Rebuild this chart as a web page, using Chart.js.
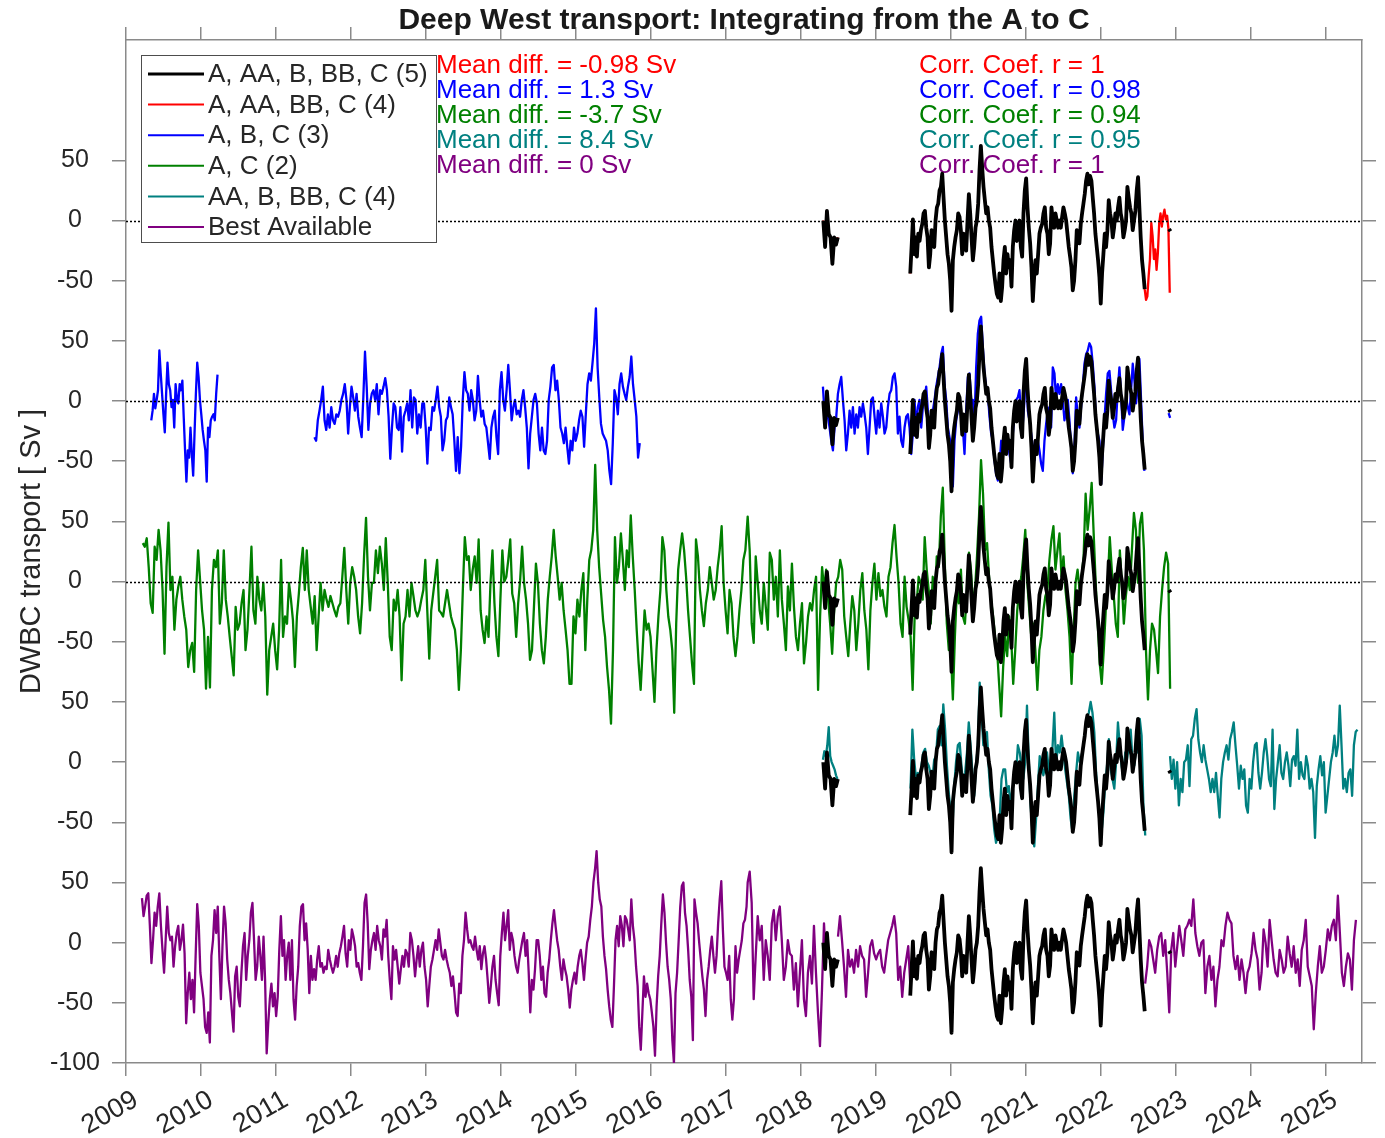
<!DOCTYPE html>
<html>
<head>
<meta charset="utf-8">
<title>Deep West transport</title>
<script src="https://cdn.jsdelivr.net/npm/chart.js@4.4.1/dist/chart.umd.min.js"></script>
<style>
  html, body { margin: 0; padding: 0; background: #fff; }
  canvas { display: block; }
</style>
</head>
<body>
<canvas id="dwbcChart" width="1385" height="1138"></canvas>
<script>
// ---- data (Sv), each segment: [startYear, endYear, values evenly spaced] ----

// A, AA, B, BB, C (5)
const black2018 = [0, -22, 8, -11, -14, -36, -14, -20, -14];
const blackMain = [-44,-22,1,-28,-14,-30,-11,-17,-8,-3,6,8,-6,-14,-39,-28,-8,-11,-22,0,11,14,25,28,39,19,0,-14,-28,-36,-50,-75,-33,-22,-14,-8,6,3,-8,-28,-11,-17,-25,0,22,6,-14,-33,-22,-6,0,14,42,62,44,28,17,6,11,0,-6,-22,-33,-44,-53,-61,-64,-44,-67,-55,-33,-22,-44,-28,-39,-33,-55,-22,-8,0,-17,-11,0,-22,-30,6,25,35,11,-6,-19,-39,-67,-47,-33,-44,-28,-11,-6,-3,6,11,-6,-11,-28,-19,11,0,-6,6,0,-6,0,-6,3,11,6,0,-11,-22,-30,-39,-58,-50,-33,-8,-11,-19,-3,6,14,22,33,39,30,37,33,19,6,-11,-22,-33,-47,-69,-44,-28,-11,-22,-8,17,6,0,-14,-6,6,0,11,19,6,0,-14,-8,0,28,19,11,6,-8,0,8,25,36,11,-14,-33,-44,-57];
const blackTail = [-7, -9];

// A, AA, BB, C (4) - only the tail after 2022.6 is not hidden by the black line
const redTail = [-57,-66,-63,-46,-32,-2,-13,-32,-24,-41,-27,-2,6,-5,4,9,1,4,-7,-60];

// A, B, C (3)
const blue1 = [-16,-8,6,-6,1,9,42,23,6,-11,-26,6,32,14,9,-5,1,-22,14,1,-2,14,9,17,-13,-41,-67,-41,-47,-22,-44,-62,-27,6,32,20,1,-11,-24,-33,-41,-67,-22,-30,-16,-13,-11,-16,6,22];
const blue2 = [-30,-33,-16,-8,1,12,-16,-24,-11,-22,-5,-16,-19,-11,-13,-8,1,6,14,1,-27,-5,12,3,-8,6,-13,-22,-30,3,41,12,-24,-2,6,9,1,14,-11,9,6,12,19,9,-13,-48,-22,-2,-5,-22,-24,-5,-42,-13,-8,-2,-16,9,-22,3,1,-27,-11,-22,-2,-2,-22,-52,-22,-24,-5,-8,1,12,-5,-13,-41,-33,-16,-13,3,-5,-11,-33,-58,-30,-60,-38,1,24,9,6,-8,9,1,-16,-8,21,1,-13,-8,-19,-22,-35,-48,-22,-13,-8,-30,-44,9,24,1,-8,9,30,9,-16,-5,1,-11,-8,-13,1,9,-5,-22,-56,-27,-13,1,6,-2,-27,-41,-22,-41,-44,-33,1,12,28,30,9,17,1,-22,-27,-35,-22,-38,-52,-33,-41,-22,-33,-27,-16,-8,-13,-38,-11,14,23,17,32,48,77,28,3,-19,-27,-30,-33,-41,-58,-69,-35,9,3,-11,14,23,12,6,1,12,20,37,14,1,-13,-47,-35];
const blue3 = [12,-11,1,-13,-22,-33,-41,-22,-13,6,14,20,1,-16,-41,-27,-8,-22,-5,-27,-11,-22,-5,-13,-2,-11,-22,-44,-22,1,3,-13,-27,-8,-22,-2,-13,-27,-22,-5,6,9,20,23,12,-27,-13,-33,-38,-22,-13,-11,-22,-44,-27,1,-22,-5,1,-22,-5,1,12,-8,-33,-11,-8,1,12,20,28,39,45,14,1,-22,-30,-38,-71,-33,-16,-8,1,-13,-22,-44,-8,20,23,1,1,-16,28,56,67,70,45,23,12,6,-13,-27,-33,-49,-61,-66,-55,-33,-41,-27,-38,-35,-44,-52,-27,-13,1,3,9,-13,-19,1,34,-8,-16,-27,-38,-49,-33,-33,-41,-52,-58,-33,-19,-8,-5,-22,28,23,1,14,6,14,1,-16,-8,1,-16,-38,-60,-38,3,-13,-22,-5,12,31,39,42,48,45,31,12,-19,-27,-33,-69,-41,-16,6,23,25,9,-11,-22,-16,9,28,6,-24,-13,3,-5,-11,9,31,17,-2,12,35,1,-35,-58];
const blue4 = [-10, -14];

// A, C (2)
const green1 = [32,29,36,12,-18,-26,29,18,43,26,-7,-60,12,49,-7,4,-40,-15,-4,4,-15,-29,-40,-71,-57,-51,-75,-7,26,1,-24,-40,-89,-46,-88,-7,18,12,26,-35,-18,26,-15,-29,-46,-62,-78,-21,-40,-35,-18,-7,-57,-40,-7,29,-24,-35,4,-15,-24,-1,-29,-94,-57,-46,-35,-57,-73,-40,18,-46,-29,-35,-1,-15,-32,-71,-29,-10,12,28,-7,26,-7,-21,-35,-12,-57,-29,-1,-24,-7,-15,-21,-12,-18,-24,-29,-21,-18,4,28,-7,-35,-1,12,4,-7,-29,-43,-18,21,53,4,-24,-1,-1,26,7,29,15,-7,36,-1,-46,-57,-15,-24,-7,-29,-82,-35,-29,-7,-29,-1,-12,-24,-29,-24,-15,-7,18,-24,-64,-24,-10,4,18,-24,-26,-29,-18,-7,-18,-29,-35,-40,-57,-90,-57,-7,37,18,21,-7,10,21,-1,35,-24,-40,-51,-29,-46,-1,26,-18,-46,-62,-15,26,0,4,18,35,-10,-18,-46,-18,1,29,-1,-15,-35,-65,-57,-21,15,-1,-35,-57,-68,-46,-15,4,21,43,21,4,-15,-1,-24,-40,-57,-85,-85,-29,-43,-15,-29,-7,7,-57,-15,18,26,43,97,43,12,-10,-32,-46,-71,-90,-118,-57,37,-1,12,40,18,-7,26,12,55,21,-7,-40,-68,-90,-57,-24,-40,-35,-46,-73,-100,-57,-29,-7,37,26,-7,-29,-40,-57,-109,-35,10,26,40,26,4,-24,-46,-68,-85,35,21,-7,-24,-37,-18,-7,12,-1,-15,-7,12,26,46,-1,-24,-43,-7,-18,-46,-62,-46,-24,-7,18,26];
const green2 = [54,26,-35,-51,21,-1,-24,-35,-1,-21,-40,24,18,-15,4,-29,26,-15,-35,-57,-4,-24,15,-21,-46,-57,-35,-18,-68,-51,-29,-18,-24,-7,4,-90,-29,12,-7,10,-15,-35,-60,-24,-1,4,18,10,-29,-46,-62,-35,-12,-24,-57,-35,-7,7,-24,-40,-73,-24,-1,15,-15,7,-12,-7,-21,-29,4,12,32,47,21,-1,-35,-46,4,-21,-32,-46,-90,-29,-18,4,-1,-15,37,10,-7,-35,4,-15,21,12,54,78,15,-35,-57,-57,-98,-46,-7,-18,10,-29,-35,-7,24,10,-18,-7,21,54,101,73,26,32,4,-15,-29,-46,-57,-85,-112,-71,-46,-62,-29,-46,-85,-57,-24,-7,4,21,43,-1,-24,-46,-35,-57,-90,-57,-46,-24,-12,-7,18,35,46,10,26,40,4,21,-7,-24,-46,-85,-43,-1,10,-7,4,21,73,43,60,82,40,-1,-35,-68,-85,-57,-24,-1,37,10,-12,-35,-46,26,-1,-35,-12,4,-7,26,57,43,-1,48,57,26,-57,-98,-57,-35,-40,-57,-76,-29,-7,12,24,15,-89];

// AA, B, BB, C (4)
const teal1 = [2,9,5,14,29,5,0,-3,-6,-11,-14];
const teal2 = [-22,27,2,-14,-9,-14,-3,8,11,0,-3,-9,-14,2,5,27,30,14,48,27,-3,-25,-42,-56,-20,0,14,16,-3,-20,-9,8,33,14,-9,-28,-3,14,66,41,14,22,25,-6,-28,-36,-56,-67,-61,-47,-14,-6,-6,-25,-20,-36,-22,-14,-9,14,8,-3,-14,0,47,0,-36,-58,-70,-47,-20,5,-3,-11,-3,8,-6,-14,11,41,-3,14,8,22,8,-6,-17,-28,-47,-58,-28,-9,8,0,5,14,25,36,41,50,41,25,-9,-31,-47,-58,-42,-17,-3,19,-6,-14,-22,0,33,14,-3,-14,8,2,14,27,2,-3,11,8,36,22,-36,-61];
const teal3 = [5,-14,2,-22,0,-36,-14,-25,0,2,14,-20,19,22,36,44,19,8,0,14,2,-6,-14,-25,-14,-25,-9,-28,-46,-14,0,8,14,2,19,25,33,14,-3,-22,-3,-14,-6,-36,-42,-14,-22,0,14,16,-9,-22,-9,8,19,5,-14,-20,27,-39,-14,0,14,-9,-14,0,8,-3,-20,2,5,-3,27,-14,0,-11,-14,5,-3,-22,-14,-25,-63,-20,-6,5,-11,0,-42,-28,-14,0,8,22,5,14,47,14,-22,-14,-25,-9,-6,-28,14,25,27];

// Best Available
const purple1 = [37,22,30,39,41,14,-17,2,25,14,30,41,14,-6,-25,2,30,8,2,5,-20,-3,8,14,-6,2,15,-9,-67,-42,-25,-47,-31,-58,-11,32,14,-25,-36,-47,-70,-75,-58,-83,-11,2,27,8,30,-11,-47,-3,30,16,-14,-31,-42,-58,-74,-28,-20,-45,-53,-25,-3,8,-31,-11,2,25,33,2,-31,-20,5,-11,-31,5,-31,-92,-67,-47,-34,-53,-42,-61,-45,-6,22,-11,2,-31,-11,0,-31,2,-47,-64,-36,-20,14,30,32,2,16,-6,-42,-11,-31,-22,-31,-14,-3,-20,-17,-25,-20,-22,-6,-14,-20,-25,-20,-11,-20,-9,-3,5,14,-9,-20,2,-6,11,5,-3,-20,-17,-25,-31,-3,33,40,16,-22,-6,2,8,-6,14,2,-3,-14,11,5,19,-11,-31,-47,-3,-14,-6,-20,-34,-22,-11,-20,-6,-9,-20,8,2,-11,-28,-14,-3,-20,-6,0,-20,-31,-53,-36,-20,-14,-6,2,-6,11,0,-11,-14,-6,-14,-20,-25,-36,-28,-42,-58,-61,-34,-42,-11,2,25,11,0,2,-3,-6,5,-6,-14,-3,-22,-9,-3,-14,-31,-50,-36,-20,-11,-31,-42,-52,-11,8,25,2,14,27,-6,8,2,-11,-20,-25,-14,-6,2,8,-11,2,-25,-58,-31,-39,-22,2,2,-11,-31,-20,-42,-45,-25,-14,2,16,27,14,2,-6,-20,-31,-14,-22,-28,-39,-54,-39,-31,-25,-34,-20,-11,-6,-17,-31,-14,0,5,19,30,50,61,76,50,36,30,5,-11,-22,-39,-53,-64,-70,-36,2,14,-3,22,14,-3,22,19,11,2,36,14,2,-20,-36,-70,-89,-58,-28,-45,-34,-42,-47,-58,-70,-94,-53,-28,-11,16,40,25,0,-20,-31,-47,-81,-100,-42,-25,2,30,47,50,25,14,-6,-31,-45,-81,36,25,16,0,-14,-28,-39,-61,-31,-20,-6,5,-11,-25,-11,16,36,51,11,-20,-25,-31,-11,-47,-64,-47,-3,-25,-14,-6,2,16,19,30];
const purple2 = [50,59,33,-47,-11,22,2,14,-31,2,-11,-31,16,27,2,22,30,2,-31,-20,2,-9,-11,-39,-17,-53,-25,2,-47,-61,-25,-11,-34,14,-25,-58,-86,-39,16,-17];
const purple3 = [5,22,2,-20,-45,-6,-20,-14,-25,-6,-20,-3,-11,-14,-45,-25,-3,2,-9,-14,-9,-6,-20,-25,-11,2,8,14,22,8,-31,-20,-45,-25,-14,-3,-34];
const purple4 = [-34,-20,2,-3,-14,-25,-6,5,8,-11,2,-25,-58,-6,8,-20,-3,14,2,-11,11,14,19,14,36,8,-3,-11,0,2,-42,-20,-11,-31,-20,-53,-31,-20,2,-3,14,25,19,16,-11,-22,-11,-31,-14,-25,-42,-25,-20,-9,8,-6,-14,-39,-25,11,0,-20,19,2,-14,-25,-28,-6,-14,-25,-20,5,-9,-20,-3,-25,-14,-36,-6,2,19,-20,-28,-36,-72,-42,-20,-3,-25,-20,-6,11,2,14,19,2,39,8,-25,-36,-20,-9,-14,-39,2,19];

// segment time spans (decimal years)
const blackSegs  = [[2018.303, 2018.497, black2018], [2019.463, 2022.591, blackMain], [2022.915, 2022.935, blackTail]];
const redSegs    = [[2018.303, 2018.497, black2018], [2019.463, 2022.591, blackMain], [2022.591, 2022.925, redTail]];
const blueSegs   = [[2009.337, 2010.221, blue1], [2011.514, 2015.854, blue2], [2018.298, 2022.587, blue3], [2022.91, 2022.93, blue4]];
const greenSegs  = [[2009.224, 2017.263, green1], [2017.294, 2022.93, green2]];
const tealSegs   = [[2018.298, 2018.492, teal1], [2019.467, 2022.598, teal2], [2022.929, 2025.429, teal3]];
const purpleSegs = [[2009.213, 2017.279, purple1], [2017.294, 2018.339, purple2], [2018.499, 2019.463, purple3], [2022.597, 2025.409, purple4]];

// panel zero offsets on the shared y axis, top to bottom
const panelOffsets = [600, 450, 300, 150, 0];
const zeroLines = [600, 450, 300];

const legendNames = ['A, AA, B, BB, C (5)', 'A, AA, BB, C (4)', 'A, B, C (3)', 'A, C (2)', 'AA, B, BB, C (4)', 'Best Available'];
const seriesColors = ['#000000', '#ff0000', '#0000ff', '#008000', '#008080', '#800080'];
const meanDiff = ['-0.98', '1.3', '-3.7', '8.4', '0'];
const corrCoef = ['1', '0.98', '0.94', '0.95', '1'];

const FONT = "'Liberation Sans', Arial, Helvetica, sans-serif";
Chart.defaults.font.family = FONT;
Chart.defaults.color = '#262626';

function buildPoints(segs, offset) {
    const pts = [];
    let prevEnd = null;
    segs.forEach(([start, end, vals]) => {
        if (prevEnd !== null && start - prevEnd > 0.05) pts.push({ x: (start + prevEnd) / 2, y: null });
        const n = vals.length;
        vals.forEach((v, i) => pts.push({ x: start + (end - start) * i / (n - 1), y: v + offset }));
        prevEnd = end;
    });
    return pts;
}

function lineSet(segs, offset, color, width, order) {
    return {
        data: buildPoints(segs, offset),
        borderColor: color,
        borderWidth: width,
        pointRadius: 0,
        tension: 0,
        borderJoinStyle: 'round',
        fill: false,
        order: order
    };
}

const coloredSegs = [redSegs, blueSegs, greenSegs, tealSegs, purpleSegs];
const datasets = [];
panelOffsets.forEach((off, i) => {
    datasets.push(lineSet(blackSegs, off, seriesColors[0], 3.8, 0));
    datasets.push(lineSet(coloredSegs[i], off, seriesColors[i + 1], 2.3, 1));
});

// y tick labels repeat per panel
function panelLabel(v) {
    if (v === -100) return '-100';
    return String(((v + 75) % 150 + 150) % 150 - 75);
}
const keepTicks = (scale) => { scale.ticks = scale.ticks.filter(t => t.value <= 650); };

const axisGray = '#8a8a8a';

const decorations = {
    id: 'decorations',
    beforeDatasetsDraw(chart) {
        const ctx = chart.ctx;
        ctx.save();
        ctx.font = '26px ' + FONT;
        ctx.textBaseline = 'middle';
        ctx.textAlign = 'left';
        for (let i = 0; i < 5; i++) {
            ctx.fillStyle = seriesColors[i + 1];
            ctx.fillText('Mean diff. = ' + meanDiff[i] + ' Sv', 436, 66 + i * 25);
            ctx.fillText('Corr. Coef. r = ' + corrCoef[i], 919, 66 + i * 25);
        }
        ctx.restore();
    },
    afterDatasetsDraw(chart) {
        const { ctx, chartArea, scales } = chart;
        ctx.save();
        // dotted zero lines
        ctx.strokeStyle = '#000';
        ctx.lineWidth = 1.5;
        ctx.setLineDash([2, 2]);
        zeroLines.forEach(v => {
            const y = Math.round(scales.y.getPixelForValue(v)) + 0.5;
            ctx.beginPath();
            ctx.moveTo(chartArea.left, y);
            ctx.lineTo(chartArea.right, y);
            ctx.stroke();
        });
        ctx.setLineDash([]);

        // legend box
        const lx = 141, ly = 55, lw = 295, lh = 187;
        ctx.fillStyle = '#fff';
        ctx.fillRect(lx, ly, lw, lh);
        ctx.strokeStyle = '#4d4d4d';
        ctx.lineWidth = 1;
        ctx.strokeRect(lx + 0.5, ly + 0.5, lw, lh);
        ctx.font = '26px ' + FONT;
        ctx.textBaseline = 'middle';
        ctx.textAlign = 'left';
        legendNames.forEach((name, i) => {
            const y = 74 + i * 30.6;
            ctx.strokeStyle = seriesColors[i];
            ctx.lineWidth = i === 0 ? 3 : 2;
            ctx.beginPath();
            ctx.moveTo(148, y);
            ctx.lineTo(204, y);
            ctx.stroke();
            ctx.fillStyle = '#262626';
            ctx.fillText(name, 208, y + 1);
        });

        // title
        ctx.font = 'bold 30px ' + FONT;
        ctx.textAlign = 'center';
        ctx.fillStyle = '#1a1a1a';
        ctx.fillText('Deep West transport: Integrating from the A to C', (chartArea.left + chartArea.right) / 2, 21);
        ctx.restore();
    }
};

new Chart(document.getElementById('dwbcChart').getContext('2d'), {
    type: 'line',
    data: { datasets: datasets },
    options: {
        responsive: false,
        devicePixelRatio: 1,
        animation: false,
        events: [],
        layout: { padding: 0 },
        plugins: { legend: { display: false }, tooltip: { enabled: false }, title: { display: false } },
        scales: {
            x: {
                type: 'linear',
                position: 'bottom',
                min: 2009,
                max: 2025.49,
                afterFit: (s) => { s.height = 75; },
                border: { color: axisGray, width: 1.5 },
                grid: { drawOnChartArea: false, tickLength: 13, color: axisGray, lineWidth: 1.5 },
                ticks: {
                    stepSize: 1, includeBounds: false, autoSkip: false,
                    minRotation: 30, maxRotation: 30, padding: 8, labelOffset: 10,
                    font: { size: 27 },
                    callback: (v) => String(Math.round(v))
                }
            },
            xTop: {
                type: 'linear',
                position: 'top',
                min: 2009,
                max: 2025.49,
                afterFit: (s) => { s.height = 40; },
                border: { color: axisGray, width: 1.5 },
                grid: { drawOnChartArea: false, tickLength: 13, color: axisGray, lineWidth: 1.5 },
                ticks: { display: false, stepSize: 1, includeBounds: false }
            },
            y: {
                type: 'linear',
                position: 'left',
                min: -100,
                max: 750,
                afterFit: (s) => { s.width = 126; },
                afterBuildTicks: keepTicks,
                border: { color: axisGray, width: 1.5 },
                grid: { drawOnChartArea: false, tickLength: 14, color: axisGray, lineWidth: 1.5 },
                ticks: { stepSize: 50, crossAlign: 'center', padding: 12, font: { size: 25 }, callback: panelLabel },
                title: { display: true, text: 'DWBC transport [ Sv ]', font: { size: 29 }, padding: { top: 15, bottom: 0 } }
            },
            yRight: {
                type: 'linear',
                position: 'right',
                min: -100,
                max: 750,
                afterFit: (s) => { s.width = 23; },
                afterBuildTicks: keepTicks,
                border: { color: axisGray, width: 1.5 },
                grid: { drawOnChartArea: false, tickLength: 14, color: axisGray, lineWidth: 1.5 },
                ticks: { display: false, stepSize: 50 }
            }
        }
    },
    plugins: [decorations]
});
</script>
</body>
</html>
